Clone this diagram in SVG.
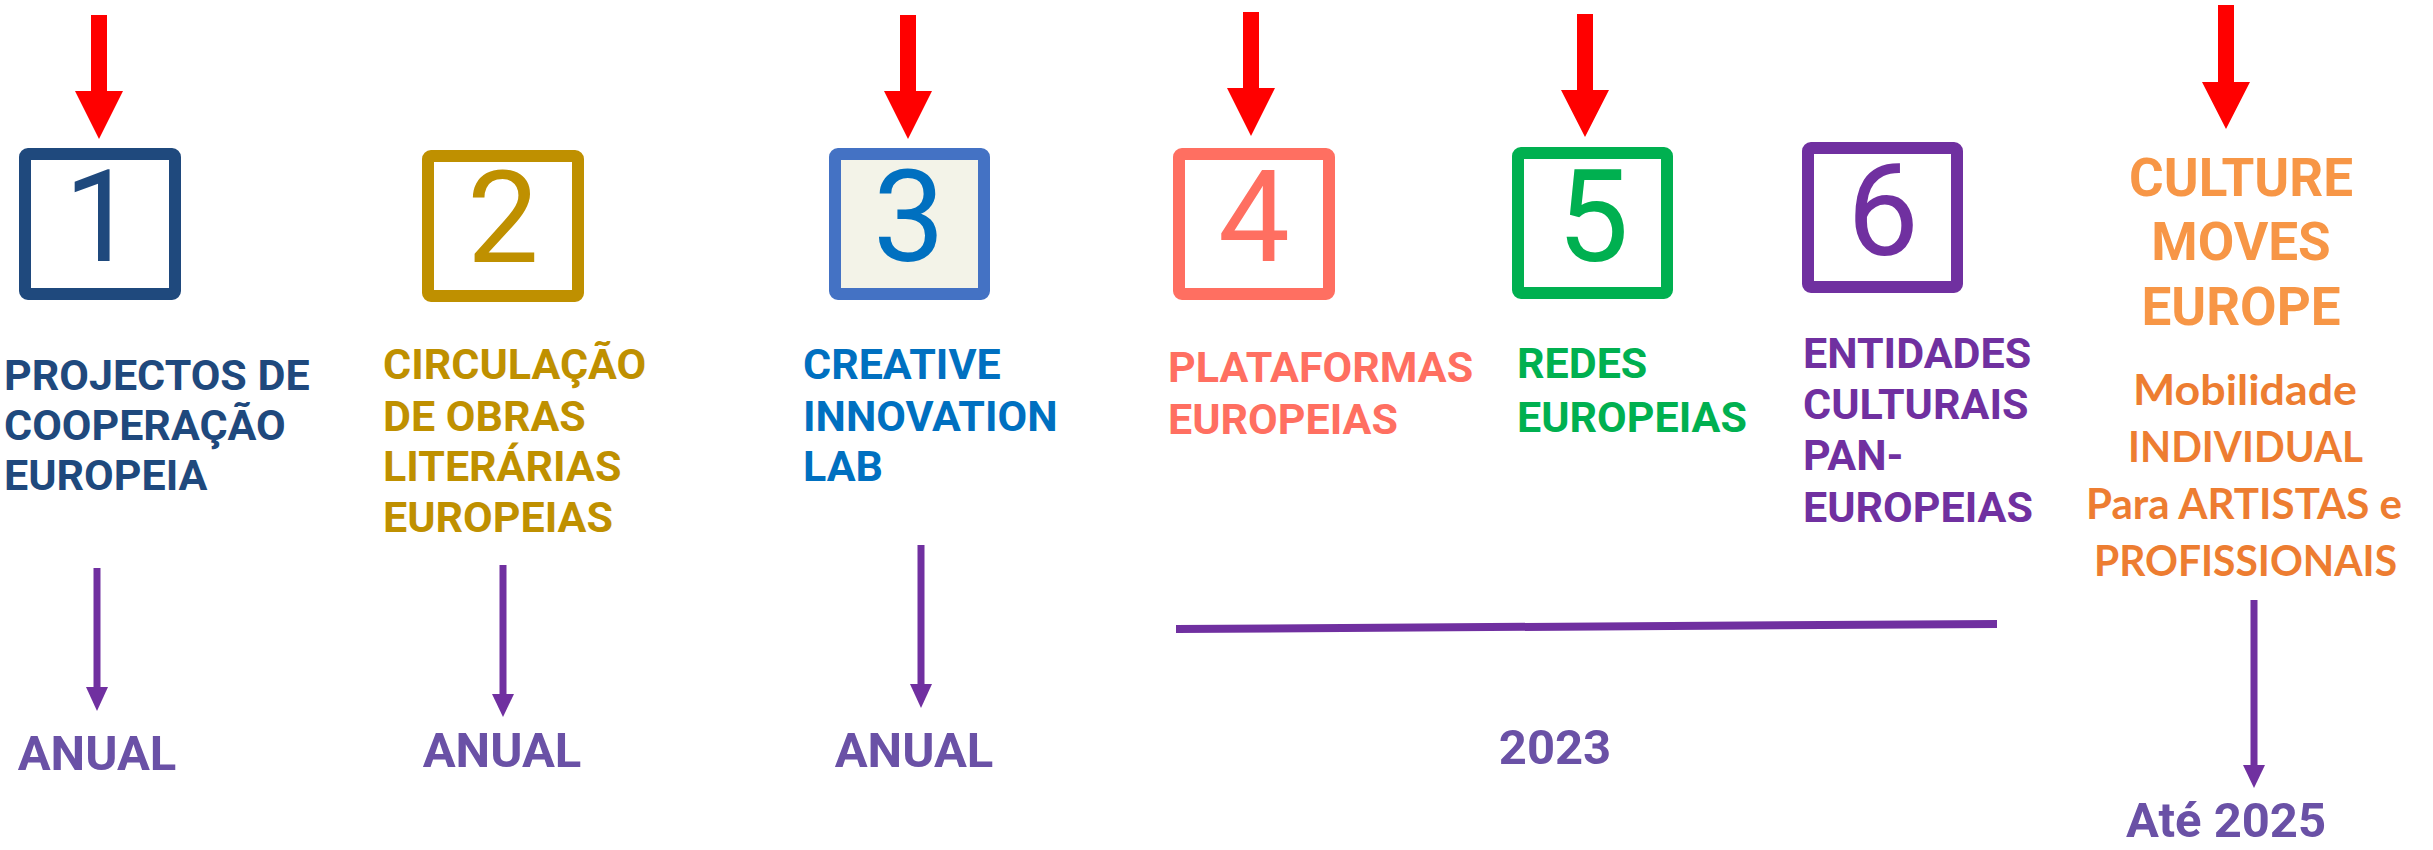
<svg xmlns="http://www.w3.org/2000/svg" width="2433" height="850" viewBox="0 0 2433 850">
<defs>
<style>
.box{stroke-width:12;fill:#fff}
.dig{font-family:Roboto,"Liberation Sans",sans-serif;font-size:128px;font-weight:400;text-anchor:middle}
.lbl{font-family:Roboto,"Liberation Sans",sans-serif;font-size:43px;font-weight:700}
.big{font-family:Roboto,"Liberation Sans",sans-serif;font-size:53px;font-weight:700;fill:#F79646;text-anchor:middle}
.mob{font-family:Lato,"Open Sans",sans-serif;font-size:42px;font-weight:700;fill:#ED7D31}
.yr{font-family:Roboto,"Liberation Sans",sans-serif;font-size:49px;font-weight:700;fill:#6A51A6;text-anchor:middle}
.red{fill:#FF0000}
.pl{stroke:#7030A0;stroke-width:7;fill:none}
.ph{fill:#7030A0}
</style>
</defs>
<rect width="2433" height="850" fill="#fff"/>

<g id="connectors">
  <!-- red arrows -->
  <polygon class="red" points="91,15 107,15 107,91 123,91 99,139 75,91 91,91"/>
  <polygon class="red" points="900,15 916,15 916,91 932,91 908,139 884,91 900,91"/>
  <polygon class="red" points="1243,12 1259,12 1259,88 1275,88 1251,136 1227,88 1243,88"/>
  <polygon class="red" points="1577,14 1593,14 1593,90 1609,90 1585,137 1561,90 1577,90"/>
  <polygon class="red" points="2218,5 2234,5 2234,82 2250,82 2226,129 2202,82 2218,82"/>
  <!-- purple arrows -->
  <line class="pl" x1="97" y1="568" x2="97" y2="690"/>
  <polygon class="ph" points="86,687 108,687 97,711"/>
  <line class="pl" x1="503" y1="565" x2="503" y2="697"/>
  <polygon class="ph" points="492,694 514,694 503,717"/>
  <line class="pl" x1="921" y1="545" x2="921" y2="687"/>
  <polygon class="ph" points="910,684 932,684 921,708"/>
  <line class="pl" x1="2254" y1="600" x2="2254" y2="768"/>
  <polygon class="ph" points="2243,765 2265,765 2254,788"/>
  <!-- bracket line -->
  <line x1="1176" y1="629" x2="1997" y2="624" stroke="#7030A0" stroke-width="8"/>
</g>

<g id="node1">
  <rect class="box" x="25" y="154" width="150" height="140" rx="3" stroke="#1F497D"/>
  <text class="dig" x="100" y="261" fill="#1F497D">1</text>
  <text class="lbl" fill="#1F497D"><tspan x="4" y="390">PROJECTOS DE</tspan><tspan x="4" y="440">COOPERAÇÃO</tspan><tspan x="4" y="490">EUROPEIA</tspan></text>
  <text class="yr" x="97" y="770">ANUAL</text>
</g>

<g id="node2">
  <rect class="box" x="428" y="156" width="150" height="140" rx="3" stroke="#BF9000"/>
  <text class="dig" x="503" y="262" fill="#BF9000">2</text>
  <text class="lbl" fill="#BF9000"><tspan x="383" y="379">CIRCULAÇÃO</tspan><tspan x="383" y="431">DE OBRAS</tspan><tspan x="383" y="481">LITERÁRIAS</tspan><tspan x="383" y="532">EUROPEIAS</tspan></text>
  <text class="yr" x="502" y="767">ANUAL</text>
</g>

<g id="node3">
  <rect class="box" x="835" y="154" width="149" height="140" rx="3" stroke="#4472C4" style="fill:#F3F3E8"/>
  <text class="dig" x="909" y="261" fill="#0070C0">3</text>
  <text class="lbl" fill="#0070C0"><tspan x="803" y="379">CREATIVE</tspan><tspan x="803" y="431">INNOVATION</tspan><tspan x="803" y="481">LAB</tspan></text>
  <text class="yr" x="914" y="767">ANUAL</text>
</g>

<g id="node4">
  <rect class="box" x="1179" y="154" width="150" height="140" rx="3" stroke="#FF6F61"/>
  <text class="dig" x="1254" y="261" fill="#FF6F61">4</text>
  <text class="lbl" fill="#FF6F61"><tspan x="1168" y="382">PLATAFORMAS</tspan><tspan x="1168" y="434">EUROPEIAS</tspan></text>
</g>

<g id="node5">
  <rect class="box" x="1518" y="153" width="149" height="140" rx="3" stroke="#00B050"/>
  <text class="dig" x="1593" y="261" fill="#00B050">5</text>
  <text class="lbl" fill="#00B050"><tspan x="1517" y="378">REDES</tspan><tspan x="1517" y="432">EUROPEIAS</tspan></text>
</g>

<g id="node6">
  <rect class="box" x="1808" y="148" width="149" height="139" rx="3" stroke="#7030A0"/>
  <text class="dig" x="1883" y="255" fill="#7030A0">6</text>
  <text class="lbl" fill="#7030A0"><tspan x="1803" y="368">ENTIDADES</tspan><tspan x="1803" y="419">CULTURAIS</tspan><tspan x="1803" y="470">PAN-</tspan><tspan x="1803" y="522">EUROPEIAS</tspan></text>
</g>

<g id="year2023">
  <text class="yr" x="1555" y="764">2023</text>
</g>

<g id="culturemoves">
  <text class="big"><tspan x="2241" y="196">CULTURE</tspan><tspan x="2241" y="260">MOVES</tspan><tspan x="2241" y="325">EUROPE</tspan></text>
  <text class="mob" x="2133" y="405" textLength="224" lengthAdjust="spacingAndGlyphs">Mobilidade</text>
  <text class="mob" x="2128" y="462" textLength="235" lengthAdjust="spacingAndGlyphs">INDIVIDUAL</text>
  <text class="mob" x="2086" y="519" textLength="316" lengthAdjust="spacingAndGlyphs">Para ARTISTAS e</text>
  <text class="mob" x="2094" y="576" textLength="303" lengthAdjust="spacingAndGlyphs">PROFISSIONAIS</text>
  <text class="yr" x="2226" y="837">Até 2025</text>
</g>
</svg>
